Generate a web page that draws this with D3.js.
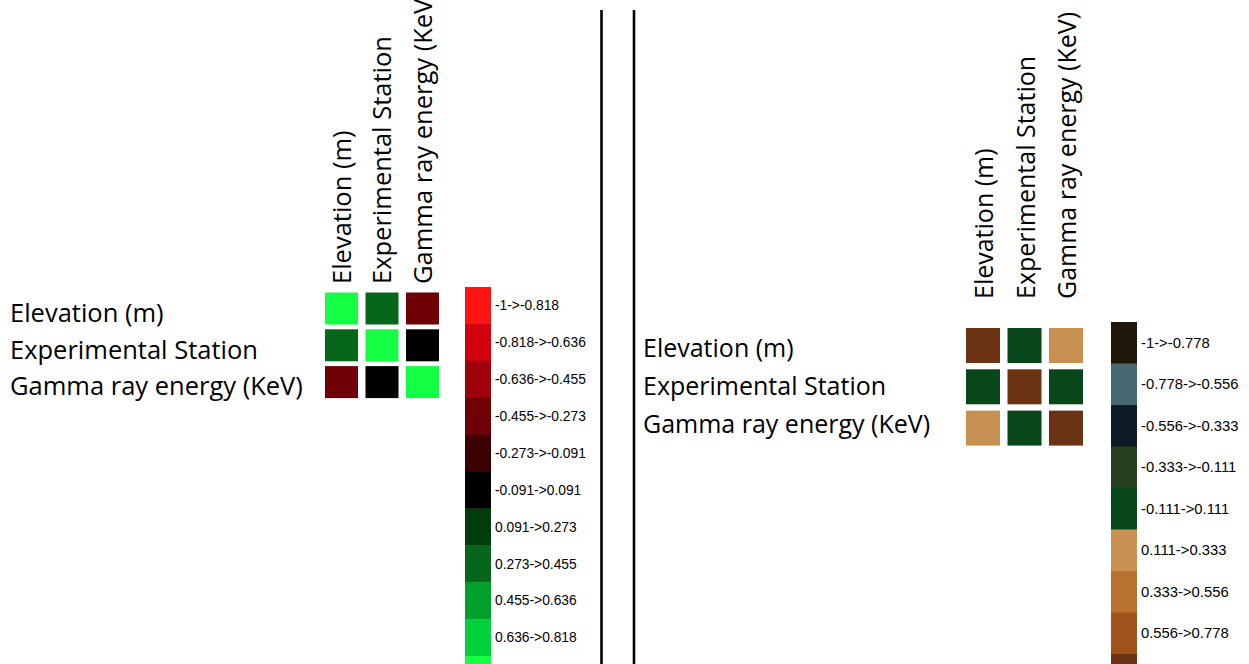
<!DOCTYPE html>
<html>
<head>
<meta charset="utf-8">
<script src="https://cdn.jsdelivr.net/npm/d3@7"></script>
<style>
  body { margin: 0; background: #fff; }
  svg { display: block; }
  .lab { font-family: "Open Sans", sans-serif; fill: #000; }
  .legtext { font-family: "Liberation Sans", Arial, sans-serif; fill: #000; }
</style>
</head>
<body>
<script>
// variables shared by both matrices
var variables = ["Elevation (m)", "Experimental Station", "Gamma ray energy (KeV)"];

// left matrix (red / black / green scheme)
var leftValues = [
  [1, 0.35, -0.35],
  [0.35, 1, 0],
  [-0.35, 0, 1]
];
var leftColors = ["#ff1313", "#d2000f", "#a0000a", "#6e0006", "#3c0002", "#000000",
                  "#003c0c", "#06661a", "#00a02c", "#00d23c", "#14ff44"];
var leftBinLabels = ["-1->-0.818", "-0.818->-0.636", "-0.636->-0.455", "-0.455->-0.273",
                     "-0.273->-0.091", "-0.091->0.091", "0.091->0.273", "0.273->0.455",
                     "0.455->0.636", "0.636->0.818", "0.818->1"];

// right matrix (earth tones)
var rightValues = [
  [1, 0, 0.2],
  [0, 1, 0],
  [0.2, 0, 1]
];
var rightColors = ["#1f170a", "#466670", "#0c1b26", "#283f1f", "#08471a",
                   "#c99151", "#b8712f", "#a0541b", "#6b3312"];
var rightBinLabels = ["-1->-0.778", "-0.778->-0.556", "-0.556->-0.333", "-0.333->-0.111",
                      "-0.111->0.111", "0.111->0.333", "0.333->0.556", "0.556->0.778",
                      "0.778->1"];

var svg = d3.select("body").append("svg")
    .attr("width", 1249)
    .attr("height", 664);

svg.append("rect").attr("width", 1249).attr("height", 664).attr("fill", "#fff");

// band scale where first band starts at x0, given step and band width
function band(domain, x0, step, bw) {
  return d3.scaleBand()
    .domain(domain)
    .range([x0, x0 + domain.length * step])
    .paddingInner((step - bw) / step)
    .paddingOuter((step - bw) / step / 2)
    .align(0);
}

function drawPanel(p) {
  var g = svg.append("g");
  var color = d3.scaleQuantize().domain([-1, 1]).range(p.colors);

  var x = band(variables, p.cellX, p.stepX, p.cellW);
  var y = band(variables, p.cellY, p.stepY, p.cellH);
  var rowY = band(variables, p.rowY, p.rowStep, p.rowStep);

  // row labels
  g.selectAll("text.row")
    .data(variables)
    .enter().append("text")
    .attr("class", "lab row")
    .attr("x", p.rowX)
    .attr("y", function(d){ return rowY(d); })
    .attr("font-size", p.font)
    .text(function(d){ return d; });

  // column labels
  g.selectAll("text.col")
    .data(variables)
    .enter().append("text")
    .attr("class", "lab col")
    .attr("transform", function(d){
      return "translate(" + (x(d) + x.bandwidth() / 2 + p.colShift) + "," + p.colBottom + ") rotate(-90)";
    })
    .attr("font-size", p.font)
    .text(function(d){ return d; });

  // cells
  var cells = [];
  p.values.forEach(function(row, i){
    row.forEach(function(v, j){ cells.push({r: variables[i], c: variables[j], v: v}); });
  });
  g.selectAll("rect.cell")
    .data(cells)
    .enter().append("rect")
    .attr("class", "cell")
    .attr("x", function(d){ return x(d.c); })
    .attr("y", function(d){ return y(d.r); })
    .attr("width", x.bandwidth())
    .attr("height", y.bandwidth())
    .attr("fill", function(d){ return color(d.v); });

  // legend
  var ly = d3.scaleBand()
    .domain(d3.range(p.colors.length))
    .range([p.legY, p.legY + p.colors.length * p.legStep]);

  g.selectAll("rect.legbox")
    .data(p.colors)
    .enter().append("rect")
    .attr("class", "legbox")
    .attr("x", p.legX)
    .attr("y", function(d, i){ return ly(i); })
    .attr("width", p.legW)
    .attr("height", ly.bandwidth() + 0.5)
    .attr("fill", function(d){ return d; });

  g.selectAll("text.legtext")
    .data(p.labels)
    .enter().append("text")
    .attr("class", "legtext")
    .attr("x", p.legX + p.legW + 4)
    .attr("y", function(d, i){ return ly(i) + ly.bandwidth() / 2; })
    .attr("dy", "0.35em")
    .attr("font-size", p.legFont)
    .text(function(d){ return d; });
}

drawPanel({
  values: leftValues, colors: leftColors, labels: leftBinLabels,
  font: 25.5, rowX: 10, rowY: 322, rowStep: 36.5,
  colBottom: 284, colShift: 9,
  cellX: 325, stepX: 40.5, cellW: 33,
  cellY: 292.5, stepY: 36.8, cellH: 32,
  legX: 465, legW: 26, legY: 287, legStep: 36.9, legFont: 13.8
});

drawPanel({
  values: rightValues, colors: rightColors, labels: rightBinLabels,
  font: 25, rowX: 643, rowY: 357, rowStep: 38,
  colBottom: 299, colShift: 10,
  cellX: 966, stepX: 41.5, cellW: 34,
  cellY: 328, stepY: 41.3, cellH: 35,
  legX: 1111, legW: 26, legY: 322, legStep: 41.5, legFont: 14.8
});

// divider lines
svg.selectAll("line.div")
  .data([601.5, 634])
  .enter().append("line")
  .attr("class", "div")
  .attr("x1", function(d){ return d; })
  .attr("x2", function(d){ return d; })
  .attr("y1", 10)
  .attr("y2", 664)
  .attr("stroke", "#000")
  .attr("stroke-width", 2.6);
</script>
</body>
</html>
